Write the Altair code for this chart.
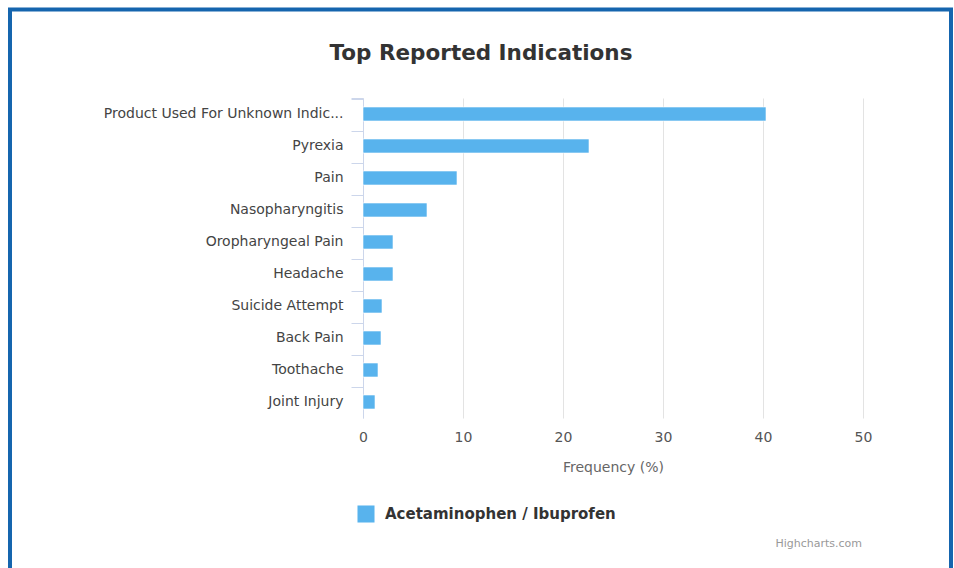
import altair as alt
import pandas as pd

# Indications ranked by reported frequency (%)
indications = [
    "Product Used For Unknown Indic...",
    "Pyrexia",
    "Pain",
    "Nasopharyngitis",
    "Oropharyngeal Pain",
    "Headache",
    "Suicide Attempt",
    "Back Pain",
    "Toothache",
    "Joint Injury",
]
frequency = [40.3, 22.6, 9.4, 6.4, 3.0, 3.0, 1.9, 1.8, 1.5, 1.2]
series_name = "Acetaminophen / Ibuprofen"
x_ticks = [0, 10, 20, 30, 40, 50]

df = pd.DataFrame({
    "indication": indications,
    "frequency": frequency,
    "series": [series_name] * len(indications),
})

FONT = "DejaVu Sans"
AXIS_LINE = "#ccd6eb"

bars = alt.Chart(df).mark_bar(size=14, color="#58b3ed", stroke="white", strokeWidth=0.6).encode(
    y=alt.Y(
        "indication:N",
        sort=indications,
        title=None,
        axis=alt.Axis(
            bandPosition=0,
            tickExtra=True,
            tickSize=12,
            tickColor=AXIS_LINE,
            domainColor=AXIS_LINE,
            labelPadding=8,
            labelFont=FONT,
            labelFontSize=14,
            labelColor="#444444",
            labelLimit=300,
            grid=False,
        ),
    ),
    x=alt.X(
        "frequency:Q",
        title="Frequency (%)",
        scale=alt.Scale(domain=[0, 50], nice=False),
        axis=alt.Axis(
            values=x_ticks,
            domain=False,
            ticks=False,
            grid=True,
            gridColor="#e3e3e3",
            labelFlush=False,
            labelFont=FONT,
            labelFontSize=14,
            labelColor="#555555",
            labelPadding=12,
            titleFont=FONT,
            titleFontSize=14,
            titleFontWeight="normal",
            titleColor="#666666",
            titlePadding=16,
        ),
    ),
    color=alt.Color(
        "series:N",
        scale=alt.Scale(range=["#58b3ed"]),
        legend=alt.Legend(
            orient="none",
            legendX=-6,
            legendY=407,
            title=None,
            symbolType="square",
            symbolSize=290,
            symbolStrokeWidth=0,
            symbolOpacity=1,
            labelFont=FONT,
            labelFontSize=15,
            labelFontWeight="bold",
            labelColor="#333333",
            labelOffset=10,
            labelLimit=400,
            padding=0,
        ),
    ),
)

title = alt.Chart(pd.DataFrame({"t": ["Top Reported Indications"]})).mark_text(
    font=FONT, fontSize=21.5, fontWeight="bold", color="#333333",
    align="center", baseline="middle",
).encode(text="t:N", x=alt.value(118), y=alt.value(-44))

credit = alt.Chart(pd.DataFrame({"t": ["Highcharts.com"]})).mark_text(
    font=FONT, fontSize=11, color="#999999", align="right", baseline="middle",
).encode(text="t:N", x=alt.value(499), y=alt.value(446))

frame = alt.Chart(pd.DataFrame({"t": [0]})).mark_rect(
    fill=None, stroke="#1565ae", strokeWidth=4,
).encode(
    x=alt.value(-353), x2=alt.value(588),
    y=alt.value(-88.5), y2=alt.value(520),
)

chart = alt.layer(bars, title, credit, frame).properties(
    width=500,
    height=320,
    padding={"left": 363, "top": 98, "right": 91, "bottom": 150},
    autosize=alt.AutoSizeParams(type="none"),
    background="white",
).configure_view(stroke=None)

chart.save("out.html", embed_options={"renderer": "svg", "actions": False})
